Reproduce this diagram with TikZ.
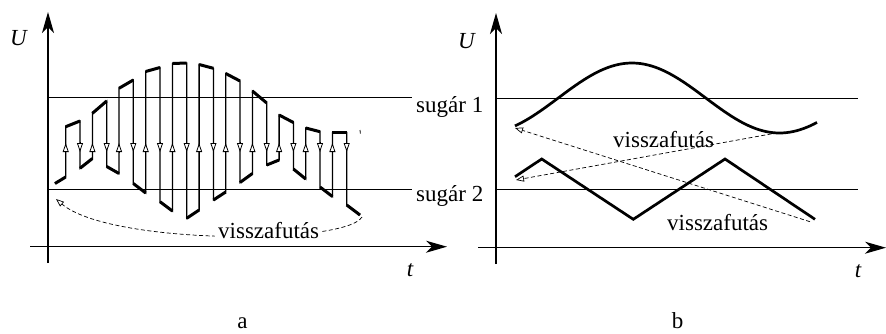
\documentclass[tikz,border=0pt]{standalone}
\usepackage{fontspec}
\setmainfont{Liberation Serif}
\usetikzlibrary{arrows.meta}
\begin{document}
\begin{tikzpicture}[x=1pt,y=-1pt,
  lbl/.style={font=\fontsize{23}{27}\selectfont, inner sep=0pt},
  ital/.style={font=\fontsize{23}{27}\selectfont\itshape, inner sep=0pt},
  axis/.style={line width=1.3pt, -{Stealth[length=21pt,width=12pt,inset=6pt]}},
  beam/.style={line width=1pt},
  seg/.style={line width=3pt},
  curve/.style={line width=2.7pt},
  trace/.style={line width=1.3pt},
  dirmark/.style={line width=0.8pt, -{Triangle[fill=white,length=9pt,width=6pt]}},
  ret/.style={dash pattern=on 4pt off 2.5pt, line width=0.7pt, -{Triangle[open,length=8pt,width=6pt]}},
]
\useasboundingbox (0,0) rectangle (886,333);

% ---------------- panel a ----------------
\draw[beam] (48,97.7) -- (412,97.7);
\draw[beam] (48,189) -- (412,189);
\draw[axis] (48,263) -- (48,12);
\draw[axis] (30,246.7) -- (447,246.7);

% chopped trace
\draw[trace] (55,183.5) -- (65.7,177) -- (65.7,126.7) -- (80,121) -- (80,168.3) -- (92.4,158.5)
  -- (92.4,113.3) -- (106.7,101) -- (106.7,166.5) -- (119,173.5) -- (119,88.3) -- (133.3,80)
  -- (133.3,183.5) -- (145.7,193) -- (145.7,71.5) -- (160,67.5) -- (160,201.7) -- (172.4,211)
  -- (172.4,63.5) -- (186.7,63) -- (186.7,218.3) -- (199.1,210) -- (199.1,64.5) -- (213.4,68.3)
  -- (213.4,200) -- (225.7,192) -- (225.7,73.5) -- (240,81) -- (240,182.5) -- (252.4,173.5)
  -- (252.4,91) -- (266.7,103) -- (266.7,165) -- (279.1,160) -- (279.1,115) -- (293.4,122.5)
  -- (293.4,169) -- (305.7,179) -- (305.7,128) -- (320,131.7) -- (320,187) -- (332.4,196.5)
  -- (332.4,132.5) -- (346.7,132.5) -- (346.7,205) -- (360,215);

\foreach \xa/\ya/\xb/\yb in {
  55/183.5/65.7/177, 65.7/126.7/80/121, 80/168.3/92.4/158.5, 92.4/113.3/106.7/101,
  106.7/166.5/119/173.5, 119/88.3/133.3/80, 133.3/183.5/145.7/193, 145.7/71.5/160/67.5,
  160/201.7/172.4/211, 172.4/63.5/186.7/63, 186.7/218.3/199.1/210, 199.1/64.5/213.4/68.3,
  213.4/200/225.7/192, 225.7/73.5/240/81, 240/182.5/252.4/173.5, 252.4/91/266.7/103,
  266.7/165/279.1/160, 279.1/115/293.4/122.5, 293.4/169/305.7/179, 305.7/128/320/131.7,
  320/187/332.4/196.5, 332.4/132.5/346.7/132.5, 346.7/205/360/215}
  \draw[seg] (\xa,\ya) -- (\xb,\yb);

\foreach \xx in {65.7,92.4,119,145.7,172.4,199.1,225.7,252.4,279.1,305.7,332.4}
  \draw[dirmark] (\xx,153) -- (\xx,143);
\foreach \xx in {80,106.7,133.3,160,186.7,213.4,240,266.7,293.4,320,346.7}
  \draw[dirmark] (\xx,142) -- (\xx,152);

\draw[line width=0.8pt] (360,130) -- (360.4,133.5);

\coordinate (ra) at (362,217);
\coordinate (rb) at (56,199);
\draw[ret] (ra) .. controls (345,245) and (110,245) .. (rb);
\node[lbl, fill=white, inner xsep=3pt, inner ysep=1pt, anchor=base west] (va) at (215,238) {visszafutás};

\node[ital, anchor=base west] (ua) at (10,45) {U};
\node[ital, anchor=base] (ta) at (410,276) {t};
\node[lbl, anchor=base] (capa) at (242.5,328) {a};

\node[lbl, anchor=base west] (s1) at (416,112) {sugár 1};
\node[lbl, anchor=base west] (s2) at (416,201) {sugár 2};

% ---------------- panel b ----------------
\draw[beam] (496,98.3) -- (858,98.3);
\draw[beam] (496,189.3) -- (858,189.3);
\draw[axis] (496,264) -- (496,13);
\draw[axis] (478,247.7) -- (886,247.7);

\draw[curve] plot[domain=515:817, samples=90] (\x, {98-35*cos((\x-632)*1.22)});
\draw[curve] (515,176.7) -- (541.7,159) -- (633.3,219.3) -- (725,159) -- (815,219.3);

\coordinate (b1s) at (810,221.7);
\coordinate (b1e) at (515,128);
\coordinate (b2s) at (778,132.7);
\coordinate (b2e) at (516,180);
\draw[ret] (b1s) -- (b1e);
\draw[ret] (b2s) -- (b2e);

\node[lbl, anchor=base west] (vb1) at (613,147) {visszafutás};
\node[lbl, anchor=base west] (vb2) at (667,230) {visszafutás};

\node[ital, anchor=base west] (ub) at (458,48) {U};
\node[ital, anchor=base] (tb) at (858,277) {t};
\node[lbl, anchor=base] (capb) at (677.5,328) {b};
\end{tikzpicture}
\end{document}
